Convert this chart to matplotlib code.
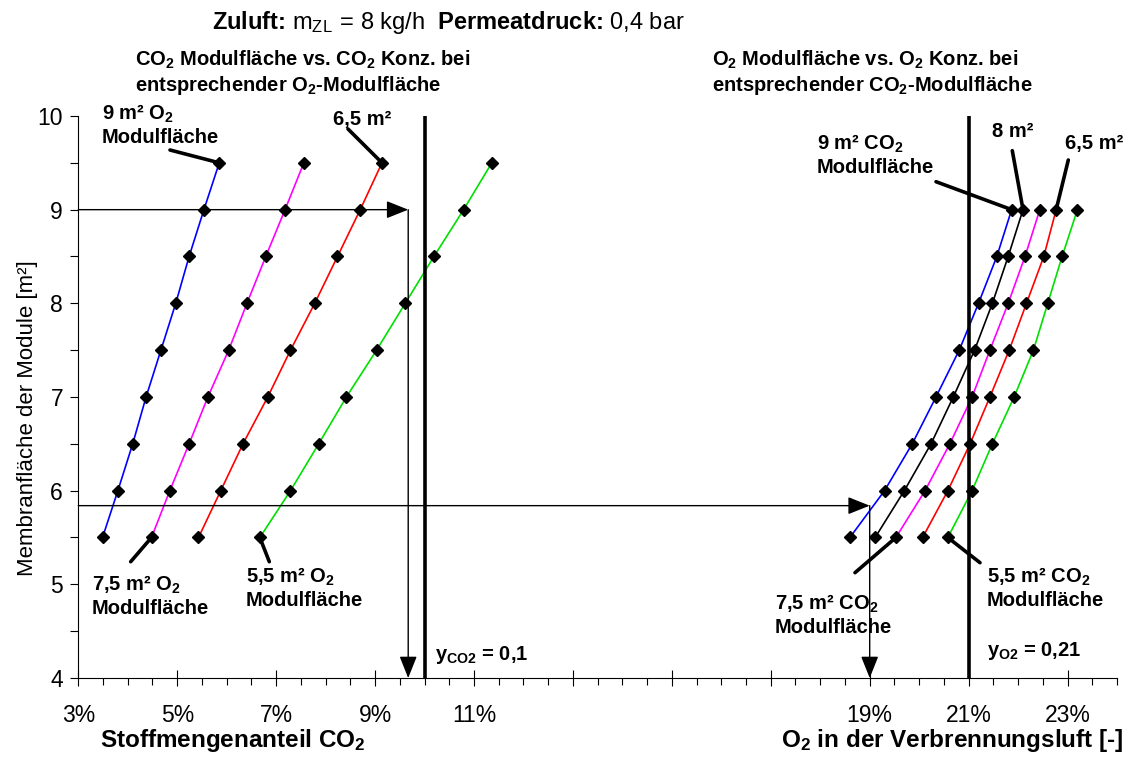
import numpy as np
import matplotlib
matplotlib.use('Agg')
import matplotlib.pyplot as plt
from matplotlib.ticker import FixedLocator, MultipleLocator

plt.rcParams['font.family'] = ['Liberation Sans', 'DejaVu Sans']
plt.rcParams['mathtext.fontset'] = 'custom'
plt.rcParams['mathtext.rm'] = 'Liberation Sans'
plt.rcParams['mathtext.bf'] = 'Liberation Sans:bold'
plt.rcParams['mathtext.it'] = 'Liberation Sans:italic'

W, H = 1132, 757

# --- data --------------------------------------------------------------
# left group: CO2 concentration vs CO2 module area (per O2 module area)
y_left = [5.5, 6.0, 6.5, 7.0, 7.5, 8.0, 8.5, 9.0, 9.5]
co2_o2_9 = [3.49, 3.80, 4.10, 4.37, 4.67, 4.97, 5.24, 5.54, 5.85]
co2_o2_75 = [4.48, 4.85, 5.24, 5.62, 6.04, 6.41, 6.79, 7.18, 7.56]
co2_o2_65 = [5.43, 5.88, 6.33, 6.83, 7.29, 7.78, 8.24, 8.70, 9.14]
co2_o2_55 = [6.67, 7.29, 7.86, 8.42, 9.03, 9.61, 10.19, 10.79, 11.36]

# right group: O2 concentration vs O2 module area (per CO2 module area)
y_right = [5.5, 6.0, 6.5, 7.0, 7.5, 8.0, 8.5, 9.0]
o2_co2_9 = [18.60, 19.30, 19.86, 20.34, 20.81, 21.20, 21.57, 21.87]
o2_co2_8 = [19.11, 19.70, 20.24, 20.69, 21.12, 21.48, 21.80, 22.10]
o2_co2_75 = [19.53, 20.12, 20.62, 21.07, 21.43, 21.80, 22.14, 22.44]
o2_co2_65 = [20.07, 20.58, 21.03, 21.43, 21.82, 22.17, 22.52, 22.77]
o2_co2_55 = [20.58, 21.07, 21.48, 21.92, 22.31, 22.60, 22.89, 23.20]

y_co2_limit = 0.10
y_o2_limit = 0.21
# reading paths (x in fraction, y in m2)
read_co2 = (0.0967, 9.0)
read_o2 = (0.190, 5.84)

xtick_vals = [3, 5, 7, 9, 11, 13, 15, 17, 19, 21, 23]
xtick_labels = ['3%', '5%', '7%', '9%', '11%', '', '', '', '19%', '21%', '23%']

# --- figure ------------------------------------------------------------
fig = plt.figure(figsize=(W / 100, H / 100), dpi=100)
ax_l, ax_r, ax_t, ax_b = 78.3, 1117, 116, 678
ax = fig.add_axes([ax_l / W, 1 - ax_b / H, (ax_r - ax_l) / W, (ax_b - ax_t) / H])
ax.set_xlim(0.03, 0.24)
ax.set_ylim(4, 10)

def px2data(px, py):
    x = 0.03 + (px - ax_l) / (ax_r - ax_l) * 0.21
    y = 10 - (py - ax_t) / (ax_b - ax_t) * 6
    return x, y

def series(xs, ys, color):
    xs = np.array(xs) / 100
    ax.plot(xs, ys, color=color, lw=1.2, zorder=3)
    ax.plot(xs, ys, ls='none', marker='D', ms=6.5, color='black', zorder=4)
    return xs

l9 = series(co2_o2_9, y_left, '#0000FF')
l75 = series(co2_o2_75, y_left, '#FF00FF')
l65 = series(co2_o2_65, y_left, '#FF0000')
l55 = series(co2_o2_55, y_left, '#00E000')

r9 = series(o2_co2_9, y_right, '#0000FF')
r8 = series(o2_co2_8, y_right, 'black')
r75 = series(o2_co2_75, y_right, '#FF00FF')
r65 = series(o2_co2_65, y_right, '#FF0000')
r55 = series(o2_co2_55, y_right, '#00E000')

# limit lines
ax.plot([y_co2_limit, y_co2_limit], [4, 10], color='black', lw=2.6, zorder=5)
ax.plot([y_o2_limit, y_o2_limit], [4, 10], color='black', lw=2.6, zorder=5)

# reading arrows
arrow_kw = dict(arrowstyle='-|>,head_length=0.75,head_width=0.3', color='black',
                lw=1.0, mutation_scale=18, shrinkA=0, shrinkB=0)
for rx, ry in (read_co2, read_o2):
    ax.annotate('', xy=(rx, ry), xytext=(0.03, ry), arrowprops=arrow_kw, zorder=6)
    ax.annotate('', xy=(rx, 4), xytext=(rx, ry), arrowprops=arrow_kw, zorder=6)

# leader lines from labels to markers
leaders = [
    ((170, 150), (l9[-1], y_left[-1])),
    ((348, 129), (l65[-1], y_left[-1])),
    ((130.7, 561.7), (l75[0], y_left[0])),
    ((269.3, 561.7), (l55[0], y_left[0])),
    ((936, 181.7), (r9[-1], y_right[-1])),
    ((1012.3, 150.7), (r8[-1], y_right[-1])),
    ((1068.3, 160), (r65[-1], y_right[-1])),
    ((855, 572.7), (r75[0], y_right[0])),
    ((980, 562.7), (r55[0], y_right[0])),
]
for start, end in leaders:
    ax.annotate('', xy=end, xytext=px2data(*start),
                arrowprops=dict(arrowstyle='-', lw=2.6, color='black',
                                shrinkA=0, shrinkB=0), zorder=6)

# axes styling
for s in ('top', 'right'):
    ax.spines[s].set_visible(False)
ax.spines['left'].set_linewidth(0.8)
ax.spines['bottom'].set_linewidth(0.8)

ax.xaxis.set_major_locator(FixedLocator([v / 100 for v in xtick_vals]))
ax.set_xticklabels(xtick_labels)
ax.xaxis.set_minor_locator(MultipleLocator(0.005))
ax.yaxis.set_major_locator(MultipleLocator(1))
ax.yaxis.set_minor_locator(MultipleLocator(0.5))
ax.tick_params(axis='x', which='major', direction='inout', length=12, width=0.8,
               labelsize=16.5, pad=13)
ax.tick_params(axis='x', which='minor', direction='out', length=5, width=0.8)
ax.tick_params(axis='y', which='both', direction='out', length=6, width=0.8)
ax.tick_params(axis='y', which='major', labelsize=16.5, pad=5)

def ftext(px, py, s, **kw):
    kw.setdefault('ha', 'left')
    kw.setdefault('va', 'top')
    fig.text(px / W, 1 - py / H, s, **kw)

bold = dict(fontsize=14.5, fontweight='bold', linespacing=1.15)

ftext(212, 22, r'Zuluft: $\mathrm{m_{ZL}\,=\,8\ kg/h}$  Permeatdruck: $\mathrm{0{,}4\ bar}$',
      fontsize=17, fontweight='bold', va='center')
ftext(135, 49, 'CO$_\\mathbf{2}$ Modulfläche vs. CO$_\\mathbf{2}$ Konz. bei\n'
      'entsprechender O$_\\mathbf{2}$-Modulfläche', **bold)
ftext(712, 49, 'O$_\\mathbf{2}$ Modulfläche vs. O$_\\mathbf{2}$ Konz. bei\n'
      'entsprechender CO$_\\mathbf{2}$-Modulfläche', **bold)

ftext(102, 103, '9 m² O$_\\mathbf{2}$\nModulfläche', **bold)
ftext(333, 110, '6,5 m²', **bold)
ftext(92, 574, '7,5 m² O$_\\mathbf{2}$\nModulfläche', **bold)
ftext(246, 566, '5,5 m² O$_\\mathbf{2}$\nModulfläche', **bold)
ftext(435, 644, 'y$_\\mathbf{CO2}$ = 0,1', **bold)

ftext(817, 133, '9 m² CO$_\\mathbf{2}$\nModulfläche', **bold)
ftext(992, 122, '8 m²', **bold)
ftext(1065, 134, '6,5 m²', **bold)
ftext(775, 593, '7,5 m² CO$_\\mathbf{2}$\nModulfläche', **bold)
ftext(987, 566, '5,5 m² CO$_\\mathbf{2}$\nModulfläche', **bold)
ftext(987, 640, 'y$_\\mathbf{O2}$ = 0,21', **bold)

ftext(100, 741, 'Stoffmengenanteil CO$_\\mathbf{2}$', fontsize=17.5, fontweight='bold', va='center')
ftext(1123, 741, 'O$_\\mathbf{2}$ in der Verbrennungsluft [-]', fontsize=17.5,
      fontweight='bold', va='center', ha='right')
ftext(28, 418, 'Membranfläche der Module [m²]', fontsize=16, rotation=90,
      ha='center', va='center')

fig.savefig('out.png', dpi=100)
